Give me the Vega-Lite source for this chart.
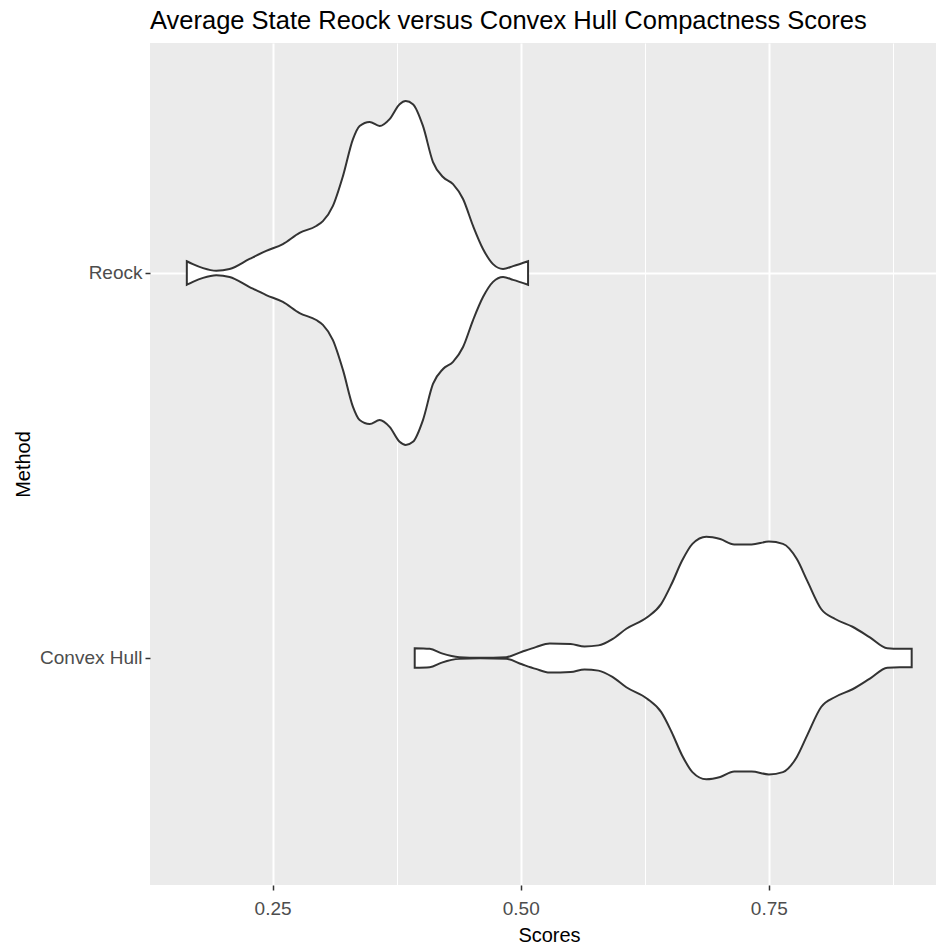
{
  "$schema": "https://vega.github.io/schema/vega-lite/v6.json",
  "autosize": {"type": "none"},
  "padding": {"left": 150, "top": 43, "right": 0, "bottom": 62},
  "width": 786,
  "height": 842,
  "title": {
    "text": "Average State Reock versus Convex Hull Compactness Scores",
    "anchor": "start",
    "frame": "group",
    "fontSize": 25.5,
    "fontWeight": "normal",
    "color": "#000000",
    "offset": 9
  },
  "data": {
    "values": [
      {"Method": "Reock", "Score": 0.1636, "Density": 0.41},
      {"Method": "Reock", "Score": 0.1697, "Density": 0.31},
      {"Method": "Reock", "Score": 0.1800, "Density": 0.17},
      {"Method": "Reock", "Score": 0.1933, "Density": 0.08},
      {"Method": "Reock", "Score": 0.2067, "Density": 0.14},
      {"Method": "Reock", "Score": 0.2268, "Density": 0.49},
      {"Method": "Reock", "Score": 0.2436, "Density": 0.77},
      {"Method": "Reock", "Score": 0.2604, "Density": 1.01},
      {"Method": "Reock", "Score": 0.2772, "Density": 1.40},
      {"Method": "Reock", "Score": 0.2940, "Density": 1.64},
      {"Method": "Reock", "Score": 0.3007, "Density": 1.81},
      {"Method": "Reock", "Score": 0.3108, "Density": 2.34},
      {"Method": "Reock", "Score": 0.3209, "Density": 3.38},
      {"Method": "Reock", "Score": 0.3310, "Density": 4.67},
      {"Method": "Reock", "Score": 0.3377, "Density": 5.13},
      {"Method": "Reock", "Score": 0.3478, "Density": 5.27},
      {"Method": "Reock", "Score": 0.3579, "Density": 5.13},
      {"Method": "Reock", "Score": 0.3679, "Density": 5.37},
      {"Method": "Reock", "Score": 0.3780, "Density": 5.89},
      {"Method": "Reock", "Score": 0.3841, "Density": 6.00},
      {"Method": "Reock", "Score": 0.3914, "Density": 5.89},
      {"Method": "Reock", "Score": 0.4015, "Density": 5.13},
      {"Method": "Reock", "Score": 0.4116, "Density": 3.87},
      {"Method": "Reock", "Score": 0.4217, "Density": 3.35},
      {"Method": "Reock", "Score": 0.4318, "Density": 3.10},
      {"Method": "Reock", "Score": 0.4419, "Density": 2.58},
      {"Method": "Reock", "Score": 0.4520, "Density": 1.64},
      {"Method": "Reock", "Score": 0.4620, "Density": 0.84},
      {"Method": "Reock", "Score": 0.4721, "Density": 0.31},
      {"Method": "Reock", "Score": 0.4822, "Density": 0.14},
      {"Method": "Reock", "Score": 0.4923, "Density": 0.24},
      {"Method": "Reock", "Score": 0.5074, "Density": 0.41},
      {"Method": "Convex Hull", "Score": 0.3932, "Density": 0.34},
      {"Method": "Convex Hull", "Score": 0.4083, "Density": 0.32},
      {"Method": "Convex Hull", "Score": 0.4205, "Density": 0.16},
      {"Method": "Convex Hull", "Score": 0.4381, "Density": 0.03},
      {"Method": "Convex Hull", "Score": 0.4591, "Density": 0.01},
      {"Method": "Convex Hull", "Score": 0.4854, "Density": 0.03},
      {"Method": "Convex Hull", "Score": 0.5012, "Density": 0.22},
      {"Method": "Convex Hull", "Score": 0.5152, "Density": 0.38},
      {"Method": "Convex Hull", "Score": 0.5292, "Density": 0.51},
      {"Method": "Convex Hull", "Score": 0.5503, "Density": 0.49},
      {"Method": "Convex Hull", "Score": 0.5643, "Density": 0.40},
      {"Method": "Convex Hull", "Score": 0.5783, "Density": 0.44},
      {"Method": "Convex Hull", "Score": 0.5924, "Density": 0.66},
      {"Method": "Convex Hull", "Score": 0.6064, "Density": 1.02},
      {"Method": "Convex Hull", "Score": 0.6274, "Density": 1.42},
      {"Method": "Convex Hull", "Score": 0.6414, "Density": 1.88},
      {"Method": "Convex Hull", "Score": 0.6520, "Density": 2.58},
      {"Method": "Convex Hull", "Score": 0.6625, "Density": 3.39},
      {"Method": "Convex Hull", "Score": 0.6730, "Density": 3.98},
      {"Method": "Convex Hull", "Score": 0.6870, "Density": 4.23},
      {"Method": "Convex Hull", "Score": 0.7010, "Density": 4.15},
      {"Method": "Convex Hull", "Score": 0.7151, "Density": 3.96},
      {"Method": "Convex Hull", "Score": 0.7326, "Density": 3.96},
      {"Method": "Convex Hull", "Score": 0.7501, "Density": 4.06},
      {"Method": "Convex Hull", "Score": 0.7642, "Density": 3.98},
      {"Method": "Convex Hull", "Score": 0.7782, "Density": 3.45},
      {"Method": "Convex Hull", "Score": 0.7887, "Density": 2.69},
      {"Method": "Convex Hull", "Score": 0.8027, "Density": 1.71},
      {"Method": "Convex Hull", "Score": 0.8168, "Density": 1.36},
      {"Method": "Convex Hull", "Score": 0.8343, "Density": 1.09},
      {"Method": "Convex Hull", "Score": 0.8518, "Density": 0.72},
      {"Method": "Convex Hull", "Score": 0.8693, "Density": 0.34},
      {"Method": "Convex Hull", "Score": 0.8820, "Density": 0.32},
      {"Method": "Convex Hull", "Score": 0.8939, "Density": 0.32}
    ]
  },
  "encoding": {
    "x": {
      "field": "Score",
      "type": "quantitative",
      "scale": {"domain": [0.1265, 0.9184], "nice": false, "zero": false},
      "axis": {
        "title": "Scores",
        "values": [0.25, 0.375, 0.5, 0.625, 0.75, 0.875],
        "labelExpr": "(datum.value * 8) % 2 == 1 ? '' : format(datum.value, '.2f')",
        "gridWidth": {"condition": {"test": "(datum.value * 8) % 2 == 1", "value": 1}, "value": 2},
        "tickOpacity": {"condition": {"test": "(datum.value * 8) % 2 == 1", "value": 0}, "value": 1},
        "labelPadding": 9,
        "titlePadding": 7,
        "titleX": 399
      }
    }
  },
  "layer": [
    {
      "transform": [{"filter": "datum.Method == 'Reock'"}],
      "mark": {"type": "area", "fill": "#FFFFFF", "stroke": "#333333", "strokeWidth": 2, "interpolate": "monotone"},
      "encoding": {
        "y": {
          "field": "Density",
          "type": "quantitative",
          "stack": "center",
          "scale": {"domain": [-7.6744, 7.0116], "nice": false, "zero": false},
          "axis": {
            "orient": "left",
            "values": [3.0],
            "labelExpr": "'Reock'",
            "title": null,
            "gridWidth": 2,
            "labelPadding": 3
          }
        }
      }
    },
    {
      "transform": [{"filter": "datum.Method == 'Convex Hull'"}],
      "mark": {"type": "area", "fill": "#FFFFFF", "stroke": "#333333", "strokeWidth": 2, "interpolate": "monotone"},
      "encoding": {
        "y": {
          "field": "Density",
          "type": "quantitative",
          "stack": "center",
          "scale": {"domain": [-1.8443, 12.8417], "nice": false, "zero": false},
          "axis": {
            "orient": "left",
            "values": [2.115],
            "labelExpr": "'Convex Hull'",
            "title": "Method",
            "gridWidth": 2,
            "labelPadding": 3,
            "titlePadding": 6
          }
        }
      }
    }
  ],
  "resolve": {"scale": {"y": "independent"}, "axis": {"y": "independent"}},
  "config": {
    "font": "Liberation Sans",
    "view": {"fill": "#EBEBEB", "stroke": null},
    "axis": {
      "domain": false,
      "grid": true,
      "gridColor": "#FFFFFF",
      "tickColor": "#333333",
      "tickWidth": 1.5,
      "tickSize": 5,
      "labelColor": "#4D4D4D",
      "labelFontSize": 19,
      "labelFont": "Liberation Sans",
      "titleFont": "Liberation Sans",
      "titleColor": "#000000",
      "titleFontSize": 20,
      "titleFontWeight": "normal"
    }
  }
}
